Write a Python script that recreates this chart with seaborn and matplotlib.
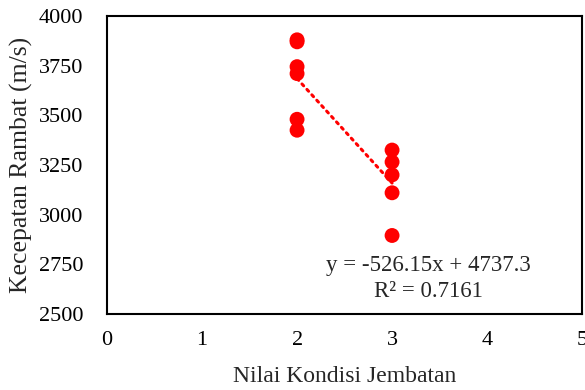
import numpy as np
import pandas as pd
import matplotlib
matplotlib.use('Agg')
import matplotlib.pyplot as plt
import seaborn as sns

# data
kondisi = [2, 2, 2, 2, 2, 2, 3, 3, 3, 3, 3]
kecepatan = [3880, 3870, 3745, 3710, 3480, 3425, 3325, 3265, 3200, 3110, 2895]
x_ticks = [0, 1, 2, 3, 4, 5]
y_ticks = [2500, 2750, 3000, 3250, 3500, 3750, 4000]
eq_text = 'y = -526.15x + 4737.3'
r2_text = 'R² = 0.7161'

data = pd.DataFrame({'kondisi': kondisi, 'kecepatan': kecepatan})

sns.set_style('white')
plt.rcParams['font.family'] = ['Liberation Serif', 'DejaVu Serif']

fig = plt.figure(figsize=(5.85, 3.9), dpi=100)
ax = fig.add_axes([0.183, 0.195, 0.812, 0.764])

# trendline (linear, dotted)
sns.regplot(data=data, x='kondisi', y='kecepatan', scatter=False, ci=None,
            truncate=True, color='red', ax=ax,
            line_kws={'linestyle': (0, (0.8, 1.6)), 'linewidth': 2.2,
                      'dash_capstyle': 'round'})

sns.scatterplot(data=data, x='kondisi', y='kecepatan', color='red', s=115,
                edgecolor='none', ax=ax, zorder=3)

ax.set_xlim(0, 5)
ax.set_ylim(2500, 4000)
ax.set_xticks(x_ticks)
ax.set_yticks(y_ticks)
ax.tick_params(direction='in', length=5, width=1.2, colors='black',
               labelsize=16)
ax.tick_params(axis='x', pad=12)
ax.tick_params(axis='y', pad=17)
for lab in ax.get_yticklabels():
    lab.set_horizontalalignment('right')

for sp in ax.spines.values():
    sp.set_visible(True)
    sp.set_color('black')
    sp.set_linewidth(1.5)

ax.set_xlabel('Nilai Kondisi Jembatan', fontsize=17, labelpad=12)
ax.set_ylabel('Kecepatan Rambat (m/s)', fontsize=18.5, labelpad=4)

ax.text(3.38, 2742, eq_text, ha='center', va='center', fontsize=16.5)
ax.text(3.38, 2611, r2_text, ha='center', va='center', fontsize=16.5)

fig.savefig('out.png', dpi=100, facecolor='white')
